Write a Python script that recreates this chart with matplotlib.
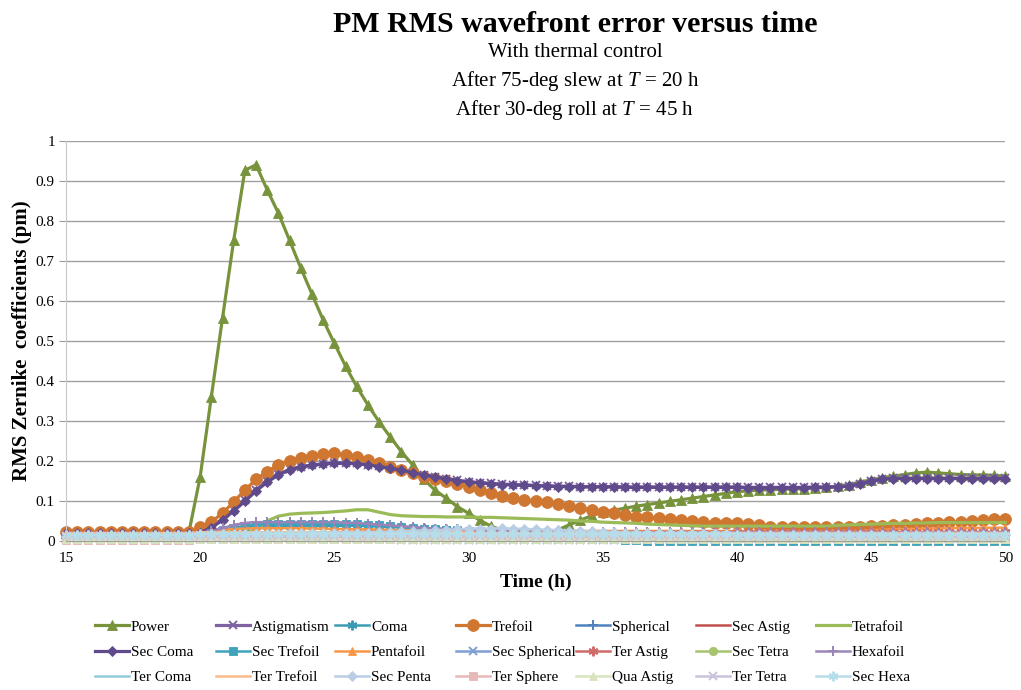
import numpy as np
import matplotlib
matplotlib.use('Agg')
import matplotlib.pyplot as plt

plt.rcParams['font.family'] = ['Liberation Serif', 'DejaVu Serif']
plt.rcParams['mathtext.fontset'] = 'custom'
plt.rcParams['mathtext.rm'] = 'Liberation Serif'
plt.rcParams['mathtext.it'] = 'Liberation Serif:italic'

# --- data: samples every 25 min from T = 15 h to T = 50 h ---
hours = np.linspace(15, 50, 85)

power = ([0.02] * 11 + [0.022,
         0.16, 0.36, 0.557, 0.751, 0.926, 0.94, 0.877, 0.819, 0.751, 0.682, 0.617, 0.552,
         0.494, 0.437, 0.386, 0.34, 0.298, 0.26, 0.223, 0.19, 0.154, 0.127, 0.107, 0.086,
         0.069, 0.052, 0.037, 0.027, 0.018, 0.012, 0.012, 0.018, 0.028, 0.040, 0.052, 0.063,
         0.072, 0.077, 0.082, 0.087, 0.091, 0.095, 0.099, 0.103, 0.107, 0.111, 0.115, 0.119,
         0.123, 0.125, 0.127, 0.128, 0.129, 0.13, 0.131, 0.132, 0.134, 0.137, 0.141, 0.147,
         0.153, 0.158, 0.162, 0.166, 0.17, 0.172, 0.17, 0.168, 0.166, 0.165, 0.165, 0.164,
         0.162])
astigmatism = ([0.02] * 12 +
               [0.022, 0.035, 0.055, 0.078, 0.102, 0.128, 0.15, 0.167, 0.179, 0.186, 0.19, 0.193,
                0.195, 0.195, 0.194, 0.191, 0.187, 0.183, 0.178, 0.172, 0.166, 0.161, 0.156, 0.152,
                0.148, 0.146, 0.144, 0.142, 0.141, 0.14, 0.139, 0.138, 0.137, 0.137, 0.136, 0.136,
                0.136, 0.136, 0.135, 0.135, 0.135, 0.135, 0.135, 0.135, 0.135, 0.135, 0.135, 0.135,
                0.135, 0.134, 0.134, 0.134, 0.134, 0.134, 0.134, 0.135, 0.135, 0.136, 0.138, 0.143,
                0.15, 0.155, 0.157, 0.157, 0.157, 0.157, 0.157, 0.157, 0.157, 0.157, 0.157, 0.157,
                0.157])
coma = ([0.014] * 12 +
        [0.016, 0.022, 0.028, 0.032, 0.035, 0.037, 0.038, 0.038, 0.038, 0.038, 0.038, 0.038,
         0.038, 0.038, 0.038, 0.037, 0.036, 0.035, 0.034, 0.033, 0.032, 0.031, 0.03, 0.029,
         0.028, 0.027, 0.026, 0.025, 0.024, 0.023, 0.022, 0.022, 0.021, 0.021, 0.02, 0.02] +
        [0.02] * 24 + [0.021, 0.022, 0.022, 0.022, 0.022, 0.022, 0.022, 0.022, 0.022, 0.022, 0.022, 0.022, 0.022])
trefoil = ([0.022] * 12 +
           [0.034, 0.048, 0.069, 0.098, 0.127, 0.154, 0.173, 0.19, 0.201, 0.208, 0.213, 0.218,
            0.219, 0.215, 0.211, 0.203, 0.194, 0.186, 0.178, 0.169, 0.161, 0.155, 0.15, 0.143,
            0.136, 0.128, 0.121, 0.113, 0.107, 0.103, 0.1, 0.097, 0.093, 0.088, 0.082, 0.077,
            0.073, 0.069, 0.065, 0.061, 0.059, 0.057, 0.054, 0.052, 0.05, 0.048, 0.046, 0.046,
            0.044, 0.042, 0.039, 0.036, 0.035, 0.034, 0.034, 0.034, 0.034, 0.035, 0.035, 0.036,
            0.037, 0.038, 0.039, 0.041, 0.042, 0.044, 0.045, 0.047, 0.048, 0.05, 0.052, 0.054,
            0.055])
spherical = ([0.008] * 12 +
             [0.009, 0.011, 0.013, 0.015, 0.017, 0.018, 0.019, 0.019, 0.019, 0.019, 0.018, 0.018,
              0.017, 0.017, 0.016, 0.016, 0.015, 0.015, 0.014, 0.014, 0.013, 0.013, 0.013, 0.012] +
             [0.012] * 49)
sec_astig = ([0.012] * 12 +
             [0.013, 0.015, 0.017, 0.019, 0.02, 0.021, 0.021, 0.021, 0.021, 0.02, 0.02, 0.02,
              0.019, 0.019, 0.018, 0.018, 0.017, 0.017, 0.016, 0.016, 0.016, 0.015, 0.015, 0.015] +
             [0.015] * 49)
tetrafoil = ([0.015] * 17 +
             [0.03, 0.05, 0.062, 0.067, 0.069, 0.07, 0.071,
              0.073, 0.075, 0.078, 0.078, 0.072, 0.066, 0.063, 0.062, 0.061, 0.061, 0.06, 0.06,
              0.06, 0.059, 0.059, 0.058, 0.057, 0.056, 0.055, 0.054, 0.053, 0.052, 0.05, 0.049,
              0.047, 0.046, 0.045, 0.044, 0.042, 0.041, 0.04, 0.039, 0.038, 0.037, 0.037, 0.037] +
             [0.037] * 9 + [0.039, 0.04, 0.041,
              0.042, 0.043, 0.044, 0.044, 0.045, 0.045, 0.046, 0.046, 0.046, 0.046, 0.046, 0.046,
              0.046])
sec_coma = ([0.019] * 12 +
            [0.021, 0.033, 0.052, 0.075, 0.099, 0.125, 0.147, 0.165, 0.177, 0.185, 0.189, 0.192,
             0.194, 0.194, 0.193, 0.19, 0.186, 0.182, 0.177, 0.171, 0.165, 0.16, 0.155, 0.151,
             0.147, 0.145, 0.143, 0.141, 0.14, 0.139, 0.138, 0.137, 0.136, 0.136, 0.135, 0.135,
             0.135, 0.135, 0.134, 0.134, 0.134, 0.134, 0.134, 0.134, 0.134, 0.134, 0.134, 0.134,
             0.134, 0.133, 0.133, 0.133, 0.133, 0.133, 0.133, 0.134, 0.134, 0.135, 0.137, 0.142,
             0.149, 0.154, 0.156, 0.156, 0.156, 0.156, 0.156, 0.156, 0.156, 0.156, 0.156, 0.156,
             0.156])
sec_trefoil = ([0.012] * 12 +
               [0.014, 0.02, 0.027, 0.033, 0.038, 0.041, 0.042, 0.043, 0.043, 0.043, 0.043, 0.043,
                0.043, 0.043, 0.042, 0.041, 0.039, 0.037, 0.035, 0.033, 0.031, 0.029, 0.027, 0.025,
                0.023, 0.021, 0.019, 0.017, 0.015, 0.013, 0.011, 0.01, 0.009, 0.008, 0.007, 0.006,
                0.005, 0.004, 0.003, 0.002, 0.001] + [0.0] * 32)
pentafoil = ([0.018] * 12 +
             [0.02, 0.024, 0.028, 0.03, 0.031, 0.032, 0.032, 0.032, 0.032, 0.032, 0.031, 0.031,
              0.03, 0.03, 0.029, 0.029, 0.028, 0.028, 0.027, 0.027, 0.026, 0.026, 0.026, 0.025] +
             [0.025] * 36 + [0.027, 0.028, 0.029, 0.03, 0.03, 0.031, 0.031, 0.032, 0.032, 0.032, 0.033, 0.033, 0.033])
sec_spherical = ([0.004] * 30 + [0.003] * 30 + [0.004] * 25)
ter_astig = ([0.018] * 24 + [0.02] * 36 + [0.022] * 25)
sec_tetra = ([0.006] * 24 + [0.005] * 36 + [0.004] * 25)
hexafoil = ([0.016] * 12 +
            [0.018, 0.024, 0.032, 0.04, 0.045, 0.047, 0.047, 0.047, 0.047, 0.047, 0.047, 0.047,
             0.047, 0.046, 0.045, 0.043, 0.041, 0.039, 0.037, 0.035, 0.033, 0.031, 0.03, 0.029,
             0.028, 0.027, 0.026, 0.025, 0.024, 0.024, 0.023, 0.023, 0.022, 0.022, 0.022, 0.022] +
            [0.022] * 37)
ter_coma = ([0.01] * 85)
ter_trefoil = ([0.02] * 12 + [0.022] * 24 + [0.02] * 49)
sec_penta = ([0.01] * 12 +
             [0.012, 0.013, 0.014, 0.015, 0.016, 0.017, 0.018, 0.018, 0.019, 0.019, 0.02, 0.02,
              0.02, 0.02, 0.021, 0.021, 0.022, 0.023, 0.024, 0.025, 0.026, 0.027, 0.028, 0.029,
              0.03, 0.031, 0.031, 0.032, 0.031, 0.03, 0.029, 0.028, 0.027, 0.026, 0.025, 0.024,
              0.023, 0.022, 0.021, 0.02, 0.02, 0.019, 0.019, 0.018, 0.018, 0.018, 0.017, 0.017] +
             [0.016] * 25)
ter_sphere = ([0.002] * 12 + [0.006] * 24 + [0.008] * 24 + [0.006] * 25)
qua_astig = ([0.005] * 85)
ter_tetra = ([0.012] * 36 + [0.013] * 49)
sec_hexa = ([0.015] * 12 + [0.018] * 24 + [0.017] * 24 + [0.016] * 25)

names = ['Power', 'Astigmatism', 'Coma', 'Trefoil', 'Spherical', 'Sec Astig', 'Tetrafoil',
         'Sec Coma', 'Sec Trefoil', 'Pentafoil', 'Sec Spherical', 'Ter Astig', 'Sec Tetra', 'Hexafoil',
         'Ter Coma', 'Ter Trefoil', 'Sec Penta', 'Ter Sphere', 'Qua Astig', 'Ter Tetra', 'Sec Hexa']
series = [power, astigmatism, coma, trefoil, spherical, sec_astig, tetrafoil,
          sec_coma, sec_trefoil, pentafoil, sec_spherical, ter_astig, sec_tetra, hexafoil,
          ter_coma, ter_trefoil, sec_penta, ter_sphere, qua_astig, ter_tetra, sec_hexa]

ast = (6, 2, 0)  # Excel-like asterisk marker
styles = [
    ('#77933C', '^', 7), ('#7E63A0', 'x', 6), ('#3A9BB3', ast, 7), ('#CF7631', 'o', 8.5),
    ('#4F81BD', '+', 7), ('#C0504D', None, 0), ('#9BBB59', None, 0),
    ('#5F4A8B', 'D', 5), ('#3FA3BE', 's', 6), ('#F79646', '^', 6), ('#7F9FD3', 'x', 6),
    ('#D16B69', ast, 7), ('#A7C46F', 'o', 6), ('#9A84B8', '+', 7),
    ('#93CDDD', None, 0), ('#FAB98A', None, 0), ('#B9CDE5', 'D', 5), ('#E6B9B8', 's', 6),
    ('#D7E4BD', '^', 6), ('#CCC1DA', 'x', 6), ('#B7DEE8', ast, 7),
]

fig = plt.figure(figsize=(10.21, 6.90), dpi=100)
ax = fig.add_axes([0.0646, 0.216, 0.920, 0.580])

handles = []
for name, vals, (col, mk, ms) in zip(names, series, styles):
    lw = 2.3 if name in ('Power', 'Trefoil', 'Astigmatism', 'Sec Coma', 'Tetrafoil') else 1.8
    kw = dict(color=col, lw=lw, label=name, clip_on=False)
    if mk is not None:
        kw.update(marker=mk, markersize=ms, markeredgewidth=1.4 if mk in ('x', '+', ast) else 0.6,
                  markeredgecolor=col)
    line, = ax.plot(hours, vals, **kw)
    handles.append(line)

ax.set_xlim(15, 50)
ax.set_ylim(0, 1)
ax.set_xticks(np.arange(15, 51, 5))
ax.set_yticks(np.arange(0, 1.01, 0.1))
ax.set_yticklabels(['0', '0.1', '0.2', '0.3', '0.4', '0.5', '0.6', '0.7', '0.8', '0.9', '1'])
ax.grid(axis='y', color='#A0A0A0', lw=1.0)
ax.set_axisbelow(True)
for s in ('top', 'right'):
    ax.spines[s].set_visible(False)
ax.spines['left'].set_color('#C8C8C8')
ax.spines['bottom'].set_color('#A0A0A0')
ax.tick_params(axis='y', direction='out', length=5, color='#A0A0A0', labelsize=11, pad=3)
ax.tick_params(axis='x', length=0, labelsize=11, pad=8)

ax.set_xlabel('Time (h)', fontsize=14, fontweight='bold', labelpad=6)
ax.set_ylabel('RMS Zernike  coefficients (pm)', fontsize=15, fontweight='bold')
ax.yaxis.set_label_coords(-0.036, 0.5)

fig.text(0.563, 1 - 32 / 690, 'PM RMS wavefront error versus time', ha='center', va='baseline',
         fontsize=21.5, fontweight='bold')
fig.text(0.563, 1 - 57 / 690, 'With thermal control', ha='center', va='baseline', fontsize=15)
fig.text(0.563, 1 - 86 / 690, 'After 75-deg slew at $T$ = 20 h', ha='center', va='baseline', fontsize=15)
fig.text(0.563, 1 - 115 / 690, 'After 30-deg roll at $T$ = 45 h', ha='center', va='baseline', fontsize=15)

# legend: 7 evenly spaced columns, 3 rows
col_x = [95, 216, 335, 456, 576, 696, 816]
for c, x0 in enumerate(col_x):
    hs = [handles[c], handles[c + 7], handles[c + 14]]
    fig.legend(hs, [h.get_label() for h in hs], loc='upper left',
               bbox_to_anchor=(x0 / 1021, 1 - 620 / 690), frameon=False,
               fontsize=11, handlelength=2.2, handletextpad=0.15, labelspacing=0.75,
               borderpad=0, borderaxespad=0)

fig.savefig('out.png', dpi=100)
